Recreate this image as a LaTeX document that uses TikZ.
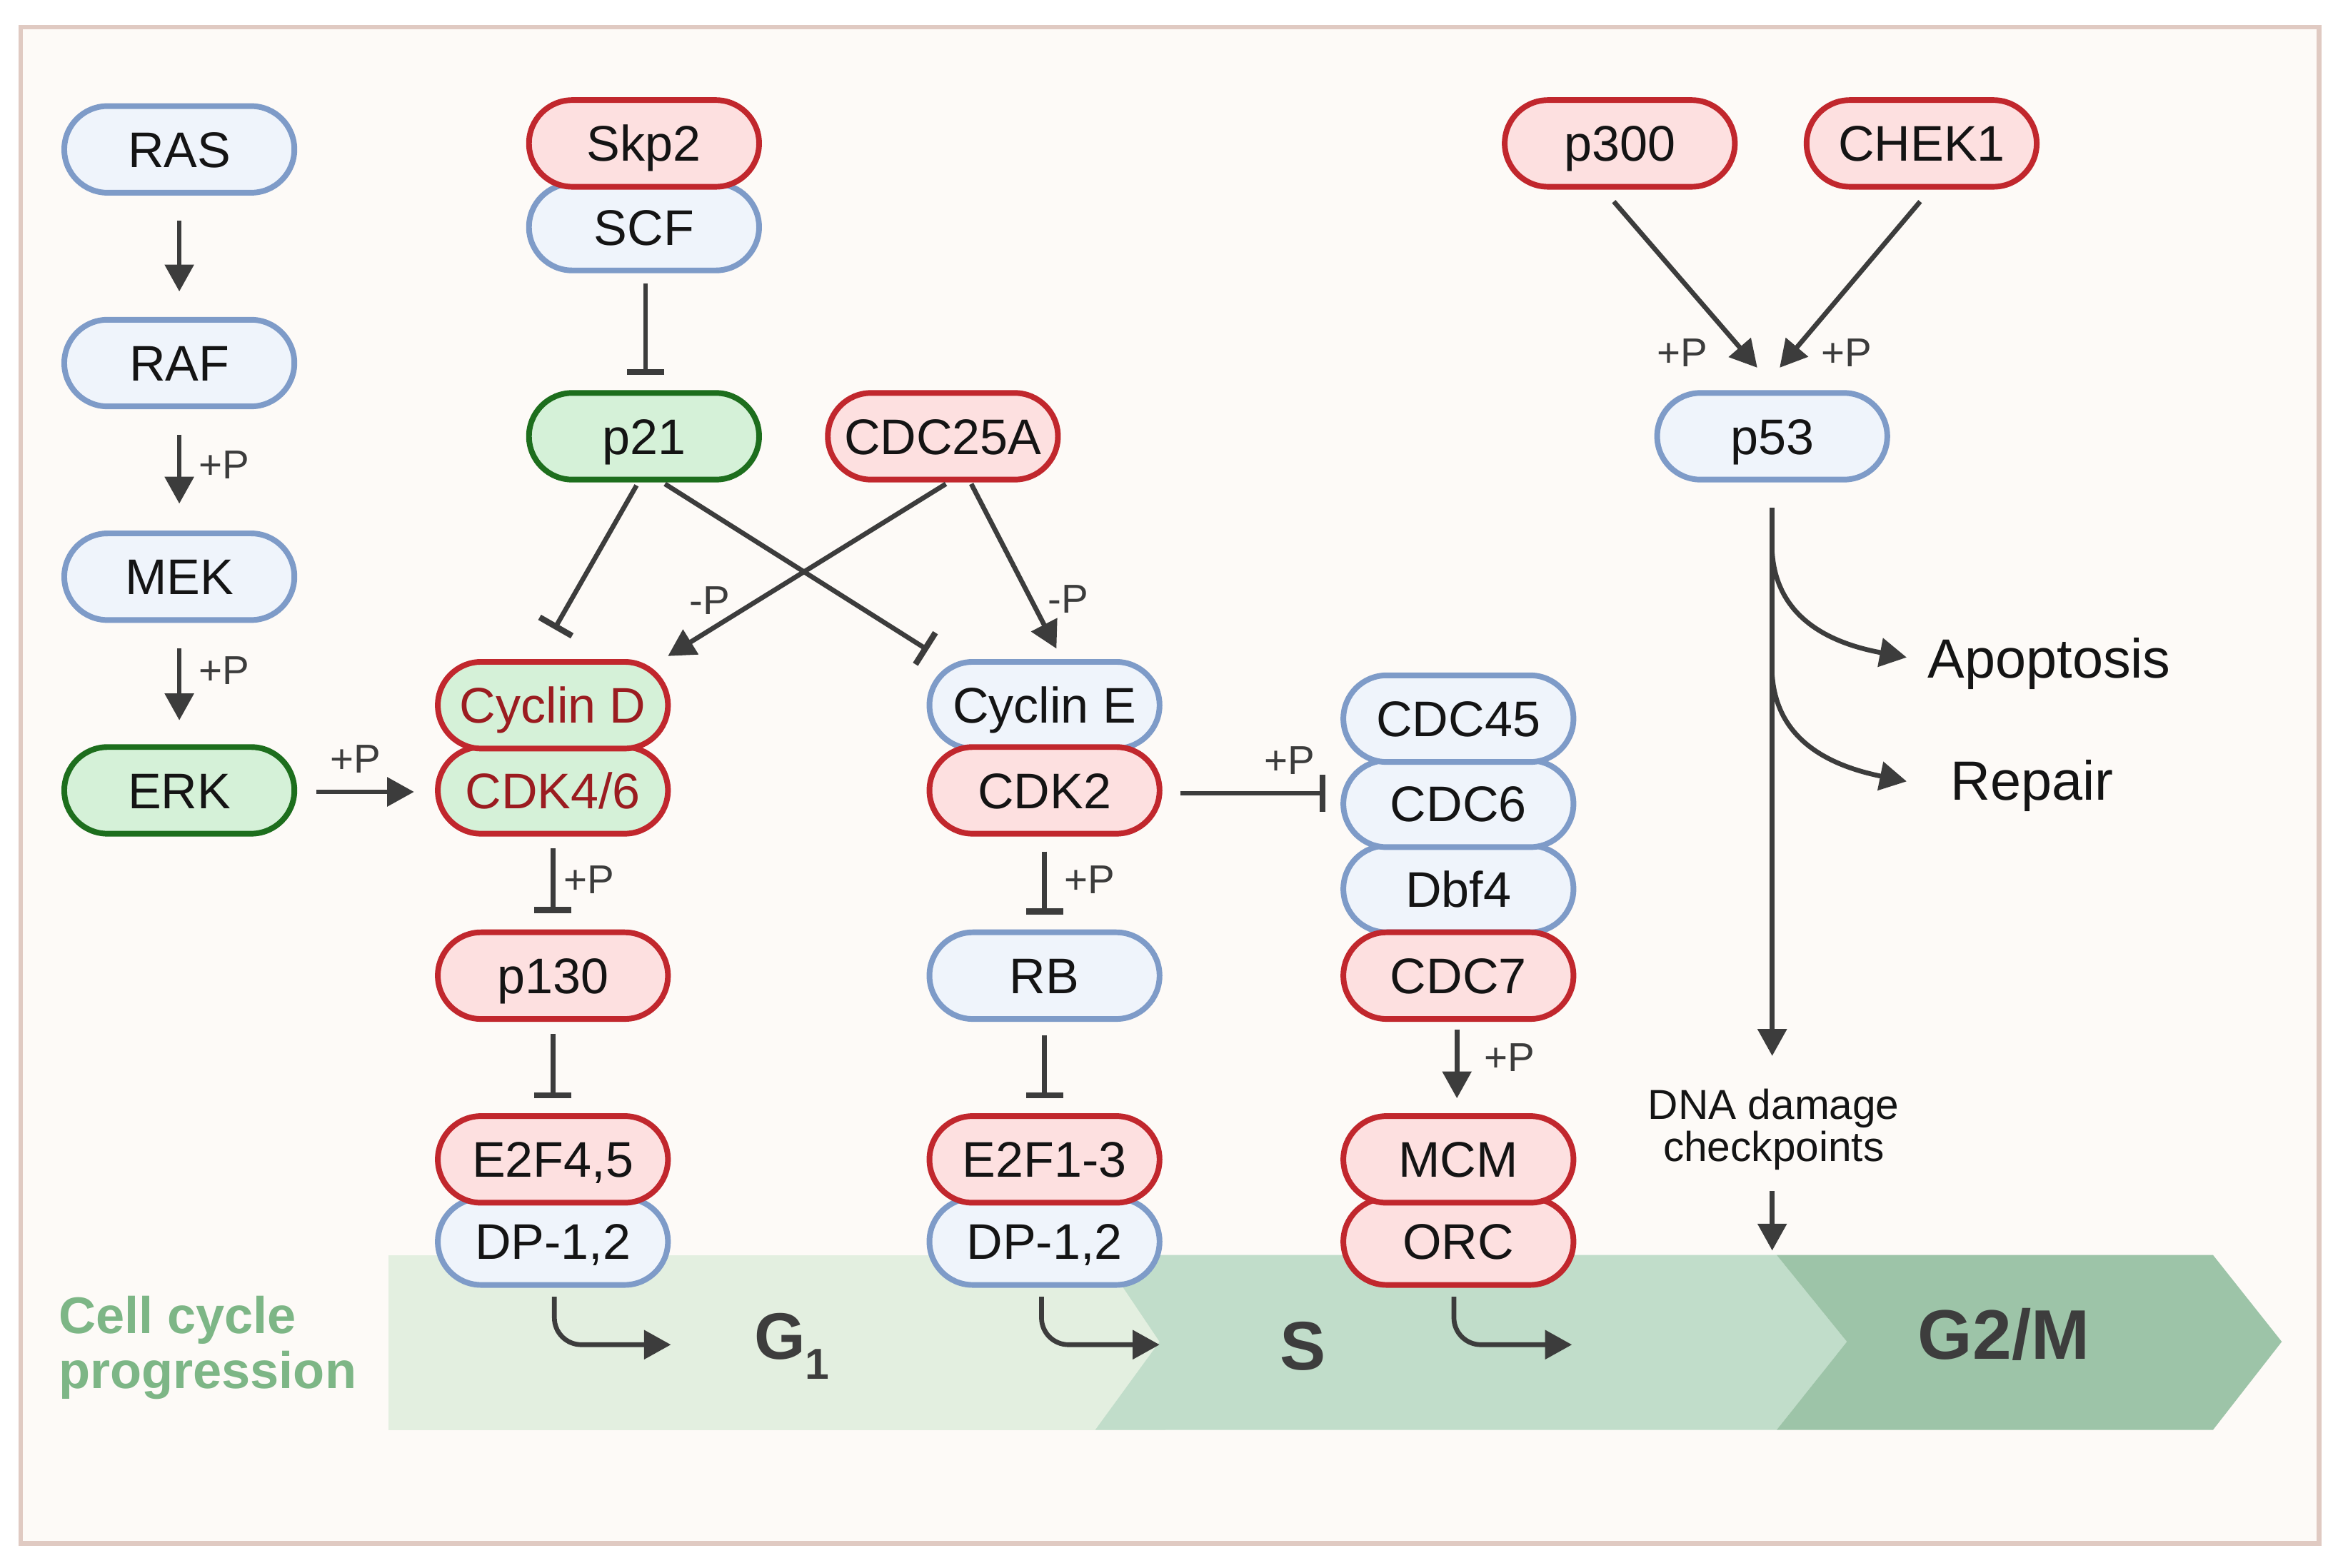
\documentclass[tikz,border=0pt]{standalone}
\usepackage{fontspec}
\setmainfont{Liberation Sans}
\usetikzlibrary{arrows.meta,calc}
\definecolor{bgc}{HTML}{FDFAF7}
\definecolor{framec}{HTML}{E0CAC2}
\definecolor{blueb}{HTML}{7E9BC8}
\definecolor{bluef}{HTML}{EFF4FB}
\definecolor{redb}{HTML}{C1272D}
\definecolor{redf}{HTML}{FDE0E0}
\definecolor{greenb}{HTML}{1D6E1D}
\definecolor{greenf}{HTML}{D5F1D8}
\definecolor{darkred}{HTML}{9B1C20}
\definecolor{arr}{HTML}{3C3C3C}
\definecolor{gone}{HTML}{E3EFE0}
\definecolor{gs}{HTML}{C1DDCA}
\definecolor{gtwo}{HTML}{9DC4A8}
\definecolor{cellg}{HTML}{7DB686}
\definecolor{phtext}{HTML}{3D3D3D}
\definecolor{txt}{HTML}{141414}
\begin{document}
\begin{tikzpicture}[x=1pt,y=-1pt,
 pill/.style={rectangle, rounded corners=29pt, minimum width=154pt, minimum height=58pt, inner sep=0pt, line width=3.8pt, font=\fontsize{33.5}{36}\selectfont, text height=24pt, text depth=0pt, text=txt},
 bluen/.style={pill, draw=blueb, fill=bluef},
 redn/.style={pill, draw=redb, fill=redf},
 greenn/.style={pill, draw=greenb, fill=greenf},
 cycn/.style={pill, draw=redb, fill=greenf, text=darkred},
 act/.style={draw=arr, line width=3.2pt, -{Triangle[length=18pt,width=19pt]}},
 inh/.style={draw=arr, line width=3.2pt, -{Bar[width=25pt,line width=4pt]}},
 plab/.style={font=\fontsize{27}{30}\selectfont, text=arr, inner sep=0pt},
 outlab/.style={font=\fontsize{37}{40}\selectfont, text=txt, inner sep=0pt, anchor=west},
 phl/.style={font=\bfseries\fontsize{44}{48}\selectfont, text=phtext, inner sep=0pt}
]
\useasboundingbox (0,0) rectangle (1568,1049);
\fill[white] (0,0) rectangle (1568,1049);
\draw[framec, fill=bgc, line width=3pt] (14,18) rectangle (1552,1033);

% phase bands
\fill[gone] (260,840) rectangle (780,957);
\fill[gs] (737,840) -- (1189,840) -- (1236,898) -- (1189,957) -- (733,957) -- (776,898) -- cycle;
\fill[gtwo] (1189,840) -- (1481,840) -- (1527,898) -- (1481,957) -- (1189,957) -- (1236,898) -- cycle;

% nodes
\node[bluen] (RAS) at (120,100) {RAS};
\node[bluen] (RAF) at (120,243) {RAF};
\node[bluen] (MEK) at (120,386) {MEK};
\node[greenn] (ERK) at (120,529) {ERK};
\node[bluen] (SCF) at (431,152) {SCF};
\node[redn] (Skp2) at (431,96) {Skp2};
\node[greenn] (p21) at (431,292) {p21};
\node[redn] (CDC25A) at (631,292) {CDC25A};
\node[cycn] (CDK46) at (370,529) {CDK4/6};
\node[cycn] (CycD) at (370,472) {Cyclin D};
\node[bluen] (CycE) at (699,472) {Cyclin E};
\node[redn] (CDK2) at (699,529) {CDK2};
\node[redn] (p130) at (370,653) {p130};
\node[bluen] (RB) at (699,653) {RB};
\node[bluen] (DP1) at (370,831) {DP-1,2};
\node[redn] (E2F45) at (370,776) {E2F4,5};
\node[bluen] (DP2) at (699,831) {DP-1,2};
\node[redn] (E2F13) at (699,776) {E2F1-3};
\node[bluen] (Dbf4) at (976,595) {Dbf4};
\node[bluen] (CDC6) at (976,538) {CDC6};
\node[bluen] (CDC45) at (976,481) {CDC45};
\node[redn] (CDC7) at (976,653) {CDC7};
\node[redn] (ORC) at (976,831) {ORC};
\node[redn] (MCM) at (976,776) {MCM};
\node[redn] (p300) at (1084,96) {p300};
\node[redn] (CHEK1) at (1286,96) {CHEK1};
\node[bluen] (p53) at (1186,292) {p53};

% free texts
\node[outlab] (apop) at (1290,444) {Apoptosis};
\node[outlab] (repair) at (1305,526) {Repair};
\node[align=center, font=\fontsize{28}{28}\selectfont, text=txt, inner sep=0pt] (dna) at (1187,756) {DNA damage\\checkpoints};
\node[anchor=west, align=left, font=\bfseries\fontsize{34.5}{37}\selectfont, text=cellg, inner sep=0pt] (ccp) at (39,902) {Cell cycle\\progression};
\node[phl] (g1) at (530,901) {G\raisebox{-.3em}{\fontsize{29}{29}\selectfont 1}};
\node[phl, font=\bfseries\fontsize{46}{50}\selectfont] (sph) at (872,901) {S};
\node[phl, font=\bfseries\fontsize{47}{50}\selectfont] (g2m) at (1341,893) {G2/M};

% connectors
\draw[act] ($(RAS.south)+(0,17)$) -- ($(RAF.north)+(0,-17)$);
\draw[act] ($(RAF.south)+(0,17)$) -- ($(MEK.north)+(0,-18)$);
\node[plab, anchor=west] (l1) at (133,311) {+P};
\draw[act] ($(MEK.south)+(0,17)$) -- ($(ERK.north)+(0,-16)$);
\node[plab, anchor=west] (l2) at (133,449) {+P};
\draw[act] ($(ERK.east)+(13,1)$) -- ($(CDK46.west)+(-14,1)$);
\node[plab] (l3) at (238,508) {+P};
\draw[inh] ($(SCF.south)+(1,7)$) -- ($(p21.north)+(1,-10)$);
\draw[inh] ($(p21.south)+(-5,2)$) -- ($(CycD.north)+(1,-20)$);
\draw[inh] ($(p21.south)+(14,1)$) -- ($(CycE.north)+(-78,-6)$);
\draw[act] ($(CDC25A.south)+(2,1)$) -- ($(CycD.north)+(77,-2)$);
\node[plab] (l4) at (475,402) {-P};
\draw[act] ($(CDC25A.south)+(19,1)$) -- ($(CycE.north)+(8,-7)$);
\node[plab] (l5) at (715,401) {-P};
\draw[inh] ($(CDK46.south)+(0,8)$) -- ($(p130.north)+(0,-11)$);
\node[plab, anchor=west] (l6) at (377,589) {+P};
\draw[inh] ($(CDK2.south)+(0,10)$) -- ($(RB.north)+(0,-10)$);
\node[plab, anchor=west] (l7) at (712,589) {+P};
\draw[inh] ($(p130.south)+(0,8)$) -- ($(E2F45.north)+(0,-10)$);
\draw[inh] ($(RB.south)+(0,9)$) -- ($(E2F13.north)+(0,-10)$);
\draw[inh] ($(CDK2.east)+(12,2)$) -- ($(CDC6.west)+(-10,-7)$);
\node[plab] (l8) at (863,509) {+P};
\draw[act] ($(CDC7.south)+(-1,5)$) -- ($(MCM.north)+(-1,-10)$);
\node[plab, anchor=west] (l9) at (993,708) {+P};
\draw[act] ($(p300.south)+(-4,8)$) -- ($(p53.north)+(-10,-15)$);
\node[plab] (l10) at (1126,236) {+P};
\draw[act] ($(CHEK1.south)+(-1,8)$) -- ($(p53.north)+(5,-15)$);
\node[plab] (l11) at (1236,236) {+P};
\draw[act] ($(p53.south)+(0,17)$) -- ($(dna.north)+(-1,-22)$);
\coordinate (br1) at (1186,370);
\coordinate (br2) at (1186,452);
\draw[act] (br1) .. controls (1189,412) and (1222,430) .. ($(apop.west)+(-14,-4)$);
\draw[act] (br2) .. controls (1189,494) and (1222,512) .. ($(repair.west)+(-29,-3)$);
\coordinate (gtop) at (1186,837);
\draw[act] ($(dna.south)+(-1,14)$) -- (gtop);
\coordinate (t1) at (449,900);
\coordinate (t2) at (776,900);
\coordinate (t3) at (1052,900);
\draw[act, rounded corners=18pt] ($(DP1.south)+(1,6)$) |- (t1);
\draw[act, rounded corners=18pt] ($(DP2.south)+(-2,6)$) |- (t2);
\draw[act, rounded corners=18pt] ($(ORC.south)+(-3,6)$) |- (t3);
\end{tikzpicture}
\end{document}
